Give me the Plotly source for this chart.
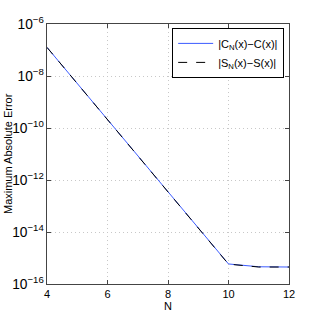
import plotly.graph_objects as go

N = [4, 5, 6, 7, 8, 9, 10, 11, 12]
err_C = [1.26e-7, 5.1e-9, 2.1e-10, 8.5e-12, 3.45e-13, 1.4e-14, 5.9e-16, 4.6e-16, 4.5e-16]
err_S = [1.26e-7, 5.1e-9, 2.1e-10, 8.5e-12, 3.45e-13, 1.4e-14, 5.8e-16, 4.5e-16, 4.5e-16]

fig = go.Figure()
fig.add_trace(go.Scatter(x=N, y=err_C, mode="lines", name="|C<sub>N</sub>(x)−C(x)|",
                         line=dict(color="#3b5bff", width=1)))
fig.add_trace(go.Scatter(x=N, y=err_S, mode="lines", name="|S<sub>N</sub>(x)−S(x)|",
                         line=dict(color="black", width=1, dash="dash")))

font = dict(family="Liberation Sans, Arial, sans-serif", size=11, color="black")
fig.update_layout(
    width=319, height=320,
    margin=dict(l=47, r=30, t=24, b=36),
    paper_bgcolor="white", plot_bgcolor="white",
    font=font,
    showlegend=True,
    legend=dict(x=0.98, y=0.985, xanchor="right", yanchor="top",
                bordercolor="black", borderwidth=1, bgcolor="white",
                font=dict(size=11), tracegroupgap=0, itemwidth=35),
    annotations=[
        dict(text="Maximum Absolute Error", xref="paper", yref="paper",
             x=-0.161, y=0.5, xanchor="center", yanchor="middle",
             textangle=-90, showarrow=False, font=dict(size=11)),
        dict(text="N", xref="paper", yref="paper", x=0.5, y=-0.085,
             xanchor="center", yanchor="middle", showarrow=False,
             font=dict(size=11)),
    ],
)
fig.update_xaxes(range=[4, 12], dtick=2, tick0=4, showline=True, mirror="ticks",
                 linecolor="#444", linewidth=1, ticks="inside", ticklen=4,
                 tickcolor="#444", showgrid=True, gridcolor="#c8c8c8",
                 griddash="1px,3px", gridwidth=1, zeroline=False, automargin=False)
fig.update_yaxes(type="log", range=[-16, -6], dtick=2, exponentformat="power",
                 showline=True, mirror="ticks", linecolor="#444", linewidth=1,
                 ticks="inside", ticklen=4, tickcolor="#444", showgrid=True,
                 gridcolor="#c8c8c8", griddash="1px,3px", gridwidth=1, automargin=False)
fig.write_html("out.html", config={"displayModeBar": False},
               post_script="document.body.style.margin='0';document.body.style.padding='0';")
